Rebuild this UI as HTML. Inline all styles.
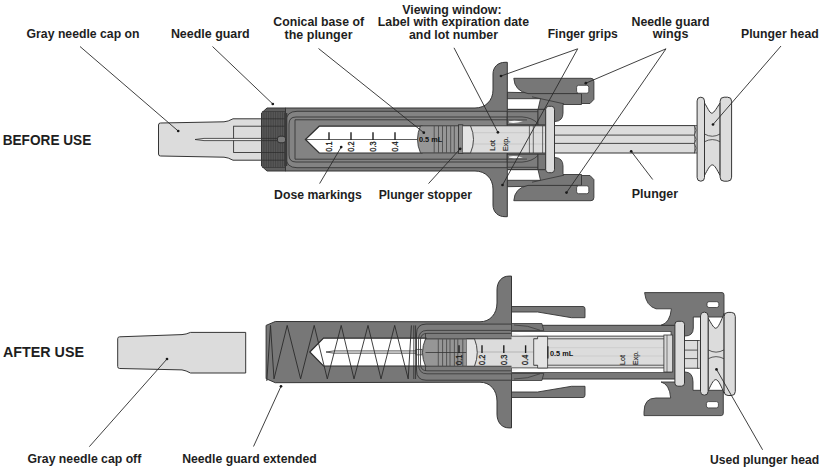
<!DOCTYPE html>
<html><head><meta charset="utf-8"><style>
html,body{margin:0;padding:0;background:#fff;}
svg{display:block;font-family:"Liberation Sans",sans-serif;}
</style></head><body>
<svg width="820" height="470" viewBox="0 0 820 470">
<rect width="820" height="470" fill="#fff"/>
<path d="M158.5,125 Q158.5,123 160.5,123 L224,121.8 Q228,121.6 233,118.8 L262,118.8 L262,160.2 L233,160.2 Q228,157.4 224,157.2 L160.5,156 Q158.5,156 158.5,154 Z" fill="#dcdcdc" stroke="#353535" stroke-width="1" />
<rect x="233.60" y="126.20" width="28.40" height="26.30" rx="0" fill="none" stroke="#353535" stroke-width="0.9"/>
<path d="M195,139.5 L204,138.4 L284,138.4 L284,140.6 L204,140.6 Z" fill="#eeeeee" stroke="#2e2e2e" stroke-width="0.8" />
<path d="M507,92.3 L581.5,93.6 L581.5,104.5 L563,104.5 L563,113 Q563,121 555,121.5 L538,121.5 L538,109.5 L540.5,98.7 L507,98.7 Z" fill="#777777" stroke="#353535" stroke-width="0.9" />
<line x1="532.00" y1="96.80" x2="564.00" y2="103.80" stroke="#353535" stroke-width="0.8"/>
<path d="M513.8,78.3 L591,78.3 Q593.9,78.3 593.9,81.5 L593.9,99.4 L590,103.5 L581.5,103.5 L581.5,93.6 L528,93.6 Q514.5,91 513.8,78.3 Z" fill="#777777" stroke="#353535" stroke-width="0.9" />
<rect x="576.60" y="85.30" width="12.20" height="7.90" rx="2" fill="#ffffff" stroke="#353535" stroke-width="0.8"/>
<g transform="translate(0,279.0) scale(1,-1)">
<path d="M507,92.3 L581.5,93.6 L581.5,104.5 L563,104.5 L563,113 Q563,121 555,121.5 L538,121.5 L538,109.5 L540.5,98.7 L507,98.7 Z" fill="#777777" stroke="#353535" stroke-width="0.9" />
<line x1="532.00" y1="96.80" x2="564.00" y2="103.80" stroke="#353535" stroke-width="0.8"/>
<path d="M513.8,78.3 L591,78.3 Q593.9,78.3 593.9,81.5 L593.9,99.4 L590,103.5 L581.5,103.5 L581.5,93.6 L528,93.6 Q514.5,91 513.8,78.3 Z" fill="#777777" stroke="#353535" stroke-width="0.9" />
<rect x="576.60" y="85.30" width="12.20" height="7.90" rx="2" fill="#ffffff" stroke="#353535" stroke-width="0.8"/>
</g>
<path d="M285,108 L475,108 C485.5,108 493,100.5 493,90 L493,74 C493,67 498,62.3 505,62.3 L507.3,62.3 L507.3,109.3 L546,109.3 L546,169.7 L507.3,169.7 L507.3,216.7 L505,216.7 C498,216.7 493,212 493,205 L493,189 C493,178.5 485.5,171 475,171 L285,171 Z" fill="#777777" stroke="#353535" stroke-width="1" />
<path d="M286,122 Q286,111.3 297,111.3 L507.3,111.3 L507.3,167.7 L297,167.7 Q286,167.7 286,157 Z" fill="#838383" stroke="#353535" stroke-width="0.9" />
<path d="M289,124 Q289,117 296,117 L507.3,117 L507.3,162 L296,162 Q289,162 289,155 Z" fill="none" stroke="#353535" stroke-width="0.9" />
<line x1="295.00" y1="119.80" x2="507.30" y2="119.80" stroke="#353535" stroke-width="0.9"/>
<line x1="295.00" y1="159.20" x2="507.30" y2="159.20" stroke="#353535" stroke-width="0.9"/>
<line x1="295.00" y1="119.80" x2="295.00" y2="159.20" stroke="#353535" stroke-width="0.9"/>
<path d="M507.3,109.5 L538,109.5 L538,124.8 L507.3,124.8 Z" fill="#7c7c7c" stroke="#353535" stroke-width="0.9" />
<line x1="507.30" y1="111.70" x2="538.00" y2="111.70" stroke="#353535" stroke-width="0.8"/>
<path d="M507.3,116.9 L522,116.9 Q532,117.5 538,123.5" fill="none" stroke="#353535" stroke-width="0.8" />
<line x1="507.30" y1="119.90" x2="527.00" y2="119.90" stroke="#353535" stroke-width="0.7"/>
<path d="M509,121.2 Q515,120.2 523,121.6 Q515,123.6 509,122.6 Z" fill="#f4f4f4" stroke="none" stroke-width="0" />
<rect x="538.00" y="109.50" width="7.70" height="15.30" rx="0" fill="#777777" stroke="#353535" stroke-width="0.8"/>
<g transform="translate(0,279.0) scale(1,-1)">
<path d="M507.3,109.5 L538,109.5 L538,124.8 L507.3,124.8 Z" fill="#7c7c7c" stroke="#353535" stroke-width="0.9" />
<line x1="507.30" y1="111.70" x2="538.00" y2="111.70" stroke="#353535" stroke-width="0.8"/>
<path d="M507.3,116.9 L522,116.9 Q532,117.5 538,123.5" fill="none" stroke="#353535" stroke-width="0.8" />
<line x1="507.30" y1="119.90" x2="527.00" y2="119.90" stroke="#353535" stroke-width="0.7"/>
<path d="M509,121.2 Q515,120.2 523,121.6 Q515,123.6 509,122.6 Z" fill="#f4f4f4" stroke="none" stroke-width="0" />
<rect x="538.00" y="109.50" width="7.70" height="15.30" rx="0" fill="#777777" stroke="#353535" stroke-width="0.8"/>
</g>
<path d="M305.4,139.5 L319.2,126.2 L422,126.2 L422,153 L319.2,153 Z" fill="#ffffff" stroke="#2e2e2e" stroke-width="1.2" />
<line x1="305.40" y1="139.50" x2="422.00" y2="139.50" stroke="#353535" stroke-width="0.8"/>
<rect x="462.00" y="125.80" width="84.00" height="27.20" rx="0" fill="#dcdcdc" stroke="#353535" stroke-width="0.9"/>
<line x1="472.00" y1="132.70" x2="546.00" y2="132.70" stroke="#bdbdbd" stroke-width="0.6"/>
<line x1="472.00" y1="144.00" x2="546.00" y2="144.00" stroke="#bdbdbd" stroke-width="0.6"/>
<line x1="529.40" y1="125.80" x2="529.40" y2="153.00" stroke="#353535" stroke-width="0.7"/>
<line x1="533.30" y1="125.80" x2="533.30" y2="153.00" stroke="#353535" stroke-width="0.7"/>
<line x1="542.60" y1="125.80" x2="542.60" y2="153.00" stroke="#353535" stroke-width="0.7"/>
<path d="M420.5,125.8 L462.5,125.8 L462.5,152.9 L420.5,152.9 Q414.5,139.4 420.5,125.8 Z" fill="#969696" stroke="#353535" stroke-width="0.9" />
<line x1="434.20" y1="126.00" x2="434.20" y2="152.70" stroke="#444" stroke-width="0.8"/>
<line x1="438.50" y1="126.00" x2="438.50" y2="152.70" stroke="#444" stroke-width="0.8"/>
<line x1="442.50" y1="126.00" x2="442.50" y2="152.70" stroke="#444" stroke-width="0.8"/>
<line x1="446.50" y1="126.00" x2="446.50" y2="152.70" stroke="#444" stroke-width="0.8"/>
<line x1="450.70" y1="126.00" x2="450.70" y2="152.70" stroke="#444" stroke-width="0.8"/>
<line x1="454.30" y1="126.00" x2="454.30" y2="152.70" stroke="#444" stroke-width="0.8"/>
<rect x="458.50" y="124.80" width="4.30" height="28.60" rx="0" fill="#8a8a8a" stroke="#353535" stroke-width="0.9"/>
<path d="M462.8,125.8 L470.5,125.8 Q476.5,139.4 470.5,152.9 L462.8,152.9" fill="#e4e4e4" stroke="#353535" stroke-width="0.9" />
<line x1="329.00" y1="132.30" x2="329.00" y2="140.00" stroke="#1e1e1e" stroke-width="1.4"/>
<text transform="translate(331.8,146.6) rotate(-90)" font-size="8.2" text-anchor="middle" font-weight="normal" fill="#1a1a1a" stroke="#1a1a1a" stroke-width="0.3" textLength="10.2" lengthAdjust="spacingAndGlyphs">0.1</text>
<line x1="351.00" y1="132.30" x2="351.00" y2="140.00" stroke="#1e1e1e" stroke-width="1.4"/>
<text transform="translate(353.8,146.6) rotate(-90)" font-size="8.2" text-anchor="middle" font-weight="normal" fill="#1a1a1a" stroke="#1a1a1a" stroke-width="0.3" textLength="10.2" lengthAdjust="spacingAndGlyphs">0.2</text>
<line x1="373.00" y1="132.30" x2="373.00" y2="140.00" stroke="#1e1e1e" stroke-width="1.4"/>
<text transform="translate(375.8,146.6) rotate(-90)" font-size="8.2" text-anchor="middle" font-weight="normal" fill="#1a1a1a" stroke="#1a1a1a" stroke-width="0.3" textLength="10.2" lengthAdjust="spacingAndGlyphs">0.3</text>
<line x1="395.00" y1="132.30" x2="395.00" y2="140.00" stroke="#1e1e1e" stroke-width="1.4"/>
<text transform="translate(397.8,146.6) rotate(-90)" font-size="8.2" text-anchor="middle" font-weight="normal" fill="#1a1a1a" stroke="#1a1a1a" stroke-width="0.3" textLength="10.2" lengthAdjust="spacingAndGlyphs">0.4</text>
<text x="419" y="142.1" font-size="7.4" font-weight="bold" fill="#111" textLength="23.2" lengthAdjust="spacingAndGlyphs">0.5 mL</text>
<text transform="translate(494.6,151) rotate(-90)" font-size="8" text-anchor="start" font-weight="normal" fill="#262626" stroke="#262626" stroke-width="0.15" textLength="11" lengthAdjust="spacingAndGlyphs">Lot</text>
<text transform="translate(507.7,151) rotate(-90)" font-size="8" text-anchor="start" font-weight="normal" fill="#262626" stroke="#262626" stroke-width="0.15" textLength="14.2" lengthAdjust="spacingAndGlyphs">Exp.</text>
<path d="M261.50,113.00 L267.00,108.00 L285.50,108.00 L285.50,171.00 L267.00,171.00 L261.50,166.00 Z" fill="#5e5e5e" stroke="#353535" stroke-width="1" />
<line x1="263.20" y1="111.50" x2="263.20" y2="167.50" stroke="#363636" stroke-width="0.6"/>
<line x1="264.95" y1="111.50" x2="264.95" y2="167.50" stroke="#363636" stroke-width="0.6"/>
<line x1="266.70" y1="111.50" x2="266.70" y2="167.50" stroke="#363636" stroke-width="0.6"/>
<line x1="268.45" y1="111.50" x2="268.45" y2="167.50" stroke="#363636" stroke-width="0.6"/>
<line x1="270.20" y1="111.50" x2="270.20" y2="167.50" stroke="#363636" stroke-width="0.6"/>
<line x1="271.95" y1="111.50" x2="271.95" y2="167.50" stroke="#363636" stroke-width="0.6"/>
<line x1="273.70" y1="111.50" x2="273.70" y2="167.50" stroke="#363636" stroke-width="0.6"/>
<line x1="275.45" y1="111.50" x2="275.45" y2="167.50" stroke="#363636" stroke-width="0.6"/>
<line x1="277.20" y1="111.50" x2="277.20" y2="167.50" stroke="#363636" stroke-width="0.6"/>
<line x1="278.95" y1="111.50" x2="278.95" y2="167.50" stroke="#363636" stroke-width="0.6"/>
<line x1="280.70" y1="111.50" x2="280.70" y2="167.50" stroke="#363636" stroke-width="0.6"/>
<line x1="282.45" y1="111.50" x2="282.45" y2="167.50" stroke="#363636" stroke-width="0.6"/>
<line x1="284.20" y1="111.50" x2="284.20" y2="167.50" stroke="#363636" stroke-width="0.6"/>
<line x1="262.00" y1="111.50" x2="285.00" y2="111.50" stroke="#333" stroke-width="0.6"/>
<line x1="262.00" y1="167.50" x2="285.00" y2="167.50" stroke="#333" stroke-width="0.6"/>
<line x1="262.00" y1="118.80" x2="285.00" y2="118.80" stroke="#2a2a2a" stroke-width="0.7"/>
<line x1="262.00" y1="126.20" x2="285.00" y2="126.20" stroke="#2a2a2a" stroke-width="0.7"/>
<line x1="262.00" y1="138.40" x2="285.00" y2="138.40" stroke="#2a2a2a" stroke-width="0.7"/>
<line x1="262.00" y1="140.60" x2="285.00" y2="140.60" stroke="#2a2a2a" stroke-width="0.7"/>
<line x1="262.00" y1="152.50" x2="285.00" y2="152.50" stroke="#2a2a2a" stroke-width="0.7"/>
<line x1="262.00" y1="160.20" x2="285.00" y2="160.20" stroke="#2a2a2a" stroke-width="0.7"/>
<rect x="284.30" y="113.00" width="3.00" height="53.00" rx="0" fill="#3a3a3a" stroke="none" stroke-width="0"/>
<rect x="277.50" y="136.20" width="8.00" height="6.60" rx="2.5" fill="#7a7a7a" stroke="#2a2a2a" stroke-width="0.9"/>
<rect x="545.70" y="106.30" width="8.80" height="66.40" rx="3" fill="#dcdcdc" stroke="#353535" stroke-width="1"/>
<rect x="554.50" y="125.60" width="140.00" height="27.40" rx="0" fill="#dcdcdc" stroke="#353535" stroke-width="1"/>
<line x1="554.50" y1="135.10" x2="694.50" y2="135.10" stroke="#353535" stroke-width="0.9"/>
<line x1="554.50" y1="143.40" x2="694.50" y2="143.40" stroke="#353535" stroke-width="0.9"/>
<path d="M694.5,125.6 Q697.5,130 694.5,135.1 Q697.5,139.3 694.5,143.4 Q697.5,148 694.5,153" fill="none" stroke="#353535" stroke-width="0.8" />
<rect x="694.50" y="125.60" width="3.00" height="27.40" rx="0" fill="#d4d4d4" stroke="none" stroke-width="0"/>
<path d="M694.5,125.6 Q697.5,130 694.5,135.1 Q697.5,139.3 694.5,143.4 Q697.5,148 694.5,153" fill="none" stroke="#353535" stroke-width="0.8" />
<line x1="694.50" y1="125.60" x2="697.00" y2="125.60" stroke="#353535" stroke-width="0.8"/>
<line x1="694.50" y1="153.00" x2="697.00" y2="153.00" stroke="#353535" stroke-width="0.8"/>
<path d="M704.5,103 C707,106.5 709.5,113.2 711.8,113.2 C714.1,113.2 717.5,106.5 720.1,103 L720.1,175.4 C717,170 714.8,164.9 712.3,164.9 C709.8,164.9 707.5,170 704.5,175.4 Z" fill="#dcdcdc" stroke="#353535" stroke-width="1" />
<path d="M704.5,134 Q712.3,138.5 720.1,134" fill="none" stroke="#353535" stroke-width="0.8" />
<path d="M704.5,141.7 Q712.3,137.5 720.1,141.7" fill="none" stroke="#353535" stroke-width="0.8" />
<rect x="697.10" y="97.20" width="7.40" height="84.00" rx="3.7" fill="#dcdcdc" stroke="#353535" stroke-width="1"/>
<rect x="720.10" y="97.20" width="11.50" height="84.00" rx="4" fill="#dcdcdc" stroke="#353535" stroke-width="1"/>
<path d="M117.7,338.8 Q117.7,336.8 119.7,336.8 L182,334.6 Q186,334.4 190.5,332.4 L245.7,332.4 L245.7,373 L190.5,373 Q186,370.5 182,369.9 L119.7,368.5 Q117.7,368.5 117.7,366.5 Z" fill="#dcdcdc" stroke="#353535" stroke-width="1" />
<path d="M511.5,306.5 L583,306.5 Q585,306.5 585,309 L585,317.7 L571.5,317.7 L537.6,312 L511.5,312 Z" fill="#777777" stroke="#353535" stroke-width="0.9" />
<g transform="translate(0,704) scale(1,-1)">
<path d="M511.5,306.5 L583,306.5 Q585,306.5 585,309 L585,317.7 L571.5,317.7 L537.6,312 L511.5,312 Z" fill="#777777" stroke="#353535" stroke-width="0.9" />
</g>
<path d="M275.3,321.5 L480,321.8 C490,321.8 497,314 497,303 L497,290 C497,282 501.5,276.1 509,276.1 L511.5,276.1 L511.5,325.3 L676,325.3 L676,379 L511.5,379 L511.5,427.9 L509,427.9 C501.5,427.9 497,422 497,414 L497,401 C497,390 490,382.2 480,382.2 L275.3,382.7 L266.1,378.7 L266.1,325.4 Z" fill="#777777" stroke="#353535" stroke-width="1" />
<path d="M416.5,334 Q416.5,324.1 426,324.1 L511.5,324.1 L511.5,380.2 L426,380.2 Q416.5,380.2 416.5,370 Z" fill="#7c7c7c" stroke="none" stroke-width="0" />
<path d="M309.8,352 L323.5,338.2 L426,338.2 L426,366 L323.5,366 Z" fill="#ffffff" stroke="#2e2e2e" stroke-width="1.2" />
<path d="M326,352 L334,350.9 L418,350.9 L418,353.2 L334,353.2 Z" fill="#f2f2f2" stroke="#333" stroke-width="0.8" />
<rect x="416.00" y="349.30" width="6.00" height="5.60" rx="0" fill="#e8e8e8" stroke="#333" stroke-width="0.7"/>
<path d="M511.5,324.1 L426,324.1 Q416.5,324.1 416.5,334 L416.5,370 Q416.5,380.2 426,380.2 L511.5,380.2" fill="none" stroke="#353535" stroke-width="0.9" />
<path d="M511.5,330.4 L427,330.4 Q418.5,330.4 418.5,340 L418.5,364 Q418.5,373.8 427,373.8 L511.5,373.8" fill="none" stroke="#353535" stroke-width="0.8" />
<path d="M511.5,333.4 L427,333.4 Q420.5,333.4 420.5,340 L420.5,364 Q420.5,370.8 427,370.8 L511.5,370.8" fill="none" stroke="#353535" stroke-width="0.8" />
<line x1="425.50" y1="333.40" x2="425.50" y2="370.80" stroke="#353535" stroke-width="0.8"/>
<path d="M511.5,323.5 L541.9,323.5 L543.8,330.6 L511.5,330.6 Z" fill="#777777" stroke="#353535" stroke-width="0.8" />
<path d="M514,325 Q528,325 540,330.2" fill="none" stroke="#353535" stroke-width="0.7" />
<rect x="511.50" y="331.60" width="159.50" height="4.60" rx="0" fill="#ffffff" stroke="#353535" stroke-width="0.7"/>
<path d="M512,332.5 Q520,335.5 532,336.2 L512,336.2 Z" fill="#f0f0f0" stroke="none" stroke-width="0" />
<g transform="translate(0,704) scale(1,-1)">
<path d="M511.5,323.5 L541.9,323.5 L543.8,330.6 L511.5,330.6 Z" fill="#777777" stroke="#353535" stroke-width="0.8" />
<path d="M514,325 Q528,325 540,330.2" fill="none" stroke="#353535" stroke-width="0.7" />
<rect x="511.50" y="331.60" width="159.50" height="4.60" rx="0" fill="#ffffff" stroke="#353535" stroke-width="0.7"/>
<path d="M512,332.5 Q520,335.5 532,336.2 L512,336.2 Z" fill="#f0f0f0" stroke="none" stroke-width="0" />
</g>
<rect x="467.00" y="338.80" width="204.00" height="27.40" rx="0" fill="#dcdcdc" stroke="#353535" stroke-width="0.9"/>
<rect x="511.50" y="336.20" width="159.50" height="32.00" rx="0" fill="#dcdcdc" stroke="none" stroke-width="0"/>
<line x1="511.50" y1="336.20" x2="671.00" y2="336.20" stroke="#353535" stroke-width="0.7"/>
<line x1="511.50" y1="367.80" x2="671.00" y2="367.80" stroke="#353535" stroke-width="0.7"/>
<line x1="533.70" y1="338.80" x2="671.00" y2="338.80" stroke="#353535" stroke-width="0.8"/>
<line x1="533.70" y1="365.20" x2="671.00" y2="365.20" stroke="#353535" stroke-width="0.8"/>
<line x1="547.60" y1="347.70" x2="663.90" y2="347.70" stroke="#c2c2c2" stroke-width="0.6"/>
<line x1="547.60" y1="356.00" x2="663.90" y2="356.00" stroke="#c2c2c2" stroke-width="0.6"/>
<line x1="467.00" y1="352.00" x2="533.70" y2="352.00" stroke="#9a9a9a" stroke-width="0.6"/>
<path d="M537.6,336.4 L547.6,336.4 L547.6,368 L537.6,368 L537.6,365.2 L533.7,365.2 L533.7,338.8 L537.6,338.8 Z" fill="#e4e4e4" stroke="#353535" stroke-width="0.8" />
<rect x="663.90" y="335.00" width="8.80" height="37.00" rx="0" fill="#d8d8d8" stroke="#353535" stroke-width="0.8"/>
<line x1="667.00" y1="335.00" x2="667.00" y2="372.00" stroke="#353535" stroke-width="0.6"/>
<path d="M425.5,338.9 L466.7,338.9 L466.7,366.2 L425.5,366.2 Q419.5,352.5 425.5,338.9 Z" fill="#969696" stroke="#353535" stroke-width="0.9" />
<line x1="438.30" y1="339.10" x2="438.30" y2="366.00" stroke="#444" stroke-width="0.8"/>
<line x1="442.60" y1="339.10" x2="442.60" y2="366.00" stroke="#444" stroke-width="0.8"/>
<line x1="446.60" y1="339.10" x2="446.60" y2="366.00" stroke="#444" stroke-width="0.8"/>
<line x1="450.00" y1="339.10" x2="450.00" y2="366.00" stroke="#444" stroke-width="0.8"/>
<line x1="454.40" y1="339.10" x2="454.40" y2="366.00" stroke="#444" stroke-width="0.8"/>
<line x1="457.80" y1="339.10" x2="457.80" y2="366.00" stroke="#444" stroke-width="0.8"/>
<line x1="462.80" y1="339.10" x2="462.80" y2="366.00" stroke="#444" stroke-width="0.8"/>
<line x1="425.50" y1="352.50" x2="466.70" y2="352.50" stroke="#333" stroke-width="0.8"/>
<path d="M466.7,338.9 L474.5,338.9 Q480,352.5 474.5,366.2 L466.7,366.2" fill="#e4e4e4" stroke="#353535" stroke-width="0.9" />
<line x1="459.00" y1="345.30" x2="459.00" y2="353.00" stroke="#1e1e1e" stroke-width="1.4"/>
<text transform="translate(461.8,359.8) rotate(-90)" font-size="8.2" text-anchor="middle" font-weight="normal" fill="#1a1a1a" stroke="#1a1a1a" stroke-width="0.3" textLength="10.2" lengthAdjust="spacingAndGlyphs">0.1</text>
<line x1="482.00" y1="345.30" x2="482.00" y2="353.00" stroke="#1e1e1e" stroke-width="1.4"/>
<text transform="translate(484.8,359.8) rotate(-90)" font-size="8.2" text-anchor="middle" font-weight="normal" fill="#1a1a1a" stroke="#1a1a1a" stroke-width="0.3" textLength="10.2" lengthAdjust="spacingAndGlyphs">0.2</text>
<line x1="503.80" y1="345.30" x2="503.80" y2="353.00" stroke="#1e1e1e" stroke-width="1.4"/>
<text transform="translate(506.6,359.8) rotate(-90)" font-size="8.2" text-anchor="middle" font-weight="normal" fill="#1a1a1a" stroke="#1a1a1a" stroke-width="0.3" textLength="10.2" lengthAdjust="spacingAndGlyphs">0.3</text>
<line x1="525.60" y1="345.30" x2="525.60" y2="353.00" stroke="#1e1e1e" stroke-width="1.4"/>
<text transform="translate(528.4,359.8) rotate(-90)" font-size="8.2" text-anchor="middle" font-weight="normal" fill="#1a1a1a" stroke="#1a1a1a" stroke-width="0.3" textLength="10.2" lengthAdjust="spacingAndGlyphs">0.4</text>
<line x1="547.90" y1="346.20" x2="547.90" y2="358.50" stroke="#1e1e1e" stroke-width="1.2"/>
<text x="550" y="356.3" font-size="7.4" font-weight="bold" fill="#111" textLength="23.2" lengthAdjust="spacingAndGlyphs">0.5 mL</text>
<text transform="translate(625,364.9) rotate(-90)" font-size="8" text-anchor="start" font-weight="normal" fill="#262626" stroke="#262626" stroke-width="0.15" textLength="10" lengthAdjust="spacingAndGlyphs">Lot</text>
<text transform="translate(638.3,364.9) rotate(-90)" font-size="8" text-anchor="start" font-weight="normal" fill="#262626" stroke="#262626" stroke-width="0.15" textLength="13.9" lengthAdjust="spacingAndGlyphs">Exp.</text>
<path d="M266.8,381.0 L270.5,325.4 L274.0,378.9 L287.2,325.4 L300.6,378.9 L314.2,325.4 L327.3,378.9 L341.2,325.4 L354.0,378.9 L368.0,325.4 L381.0,378.9 L394.7,325.4 L408.2,378.9 L411.4,325.4" fill="none" stroke="#2a2a2a" stroke-width="0.9" />
<line x1="413.80" y1="325.40" x2="413.80" y2="379.00" stroke="#2a2a2a" stroke-width="0.8"/>
<line x1="415.60" y1="325.40" x2="415.60" y2="379.00" stroke="#2a2a2a" stroke-width="0.8"/>
<path d="M644.6,292.6 L722,292.6 Q724,292.6 724,295 L724,317 L693.3,317 L693.3,328 Q693.3,336 685,336 L684,336 L684,325.3 L661,325.3 Q670,323 671.4,308.8 L656,308.8 Q646,306 644.6,292.6 Z" fill="#777777" stroke="#353535" stroke-width="0.9" />
<rect x="707.00" y="301.70" width="11.80" height="5.80" rx="2" fill="#ffffff" stroke="#353535" stroke-width="0.8"/>
<g transform="translate(0,708) scale(1,-1)">
<path d="M644,292.4 L721.3,292.4 Q723.3,292.4 723.3,295 L723.3,317.7 L693,317.7 L693,326 Q693,336 685,336 L684,336 L684,326 L661,326 Q669.5,324 670.7,310 L656,310 Q644,310 644,296 Z" fill="#777777" stroke="#353535" stroke-width="0.9" />
<rect x="706.40" y="300.10" width="12.00" height="6.30" rx="2" fill="#ffffff" stroke="#353535" stroke-width="0.8"/>
</g>
<rect x="674.90" y="321.30" width="9.60" height="64.90" rx="3" fill="#dcdcdc" stroke="#353535" stroke-width="1"/>
<rect x="684.50" y="340.50" width="14.00" height="27.70" rx="0" fill="#dcdcdc" stroke="#353535" stroke-width="0.9"/>
<line x1="684.50" y1="350.10" x2="698.50" y2="350.10" stroke="#353535" stroke-width="0.8"/>
<line x1="684.50" y1="358.60" x2="698.50" y2="358.60" stroke="#353535" stroke-width="0.8"/>
<rect x="697.50" y="340.50" width="3.20" height="27.70" rx="0" fill="#d4d4d4" stroke="#353535" stroke-width="0.7"/>
<path d="M708.1,318 C710.5,322 713.5,328.3 715.8,328.3 C718.1,328.3 721.5,320 724.1,313.5 L724.1,393 C721.5,387 718.5,379.6 715.8,379.6 C713.1,379.6 710.5,386 708.1,391 Z" fill="#dcdcdc" stroke="#353535" stroke-width="1" />
<path d="M708.1,349.8 Q716,354.5 724.1,349.8" fill="none" stroke="#353535" stroke-width="0.8" />
<path d="M708.1,358.8 Q716,354.5 724.1,358.8" fill="none" stroke="#353535" stroke-width="0.8" />
<rect x="700.50" y="312.10" width="7.60" height="83.10" rx="3.8" fill="#dcdcdc" stroke="#353535" stroke-width="1"/>
<rect x="724.10" y="312.40" width="11.20" height="83.10" rx="4" fill="#dcdcdc" stroke="#353535" stroke-width="1"/>
<text x="26.6" y="38.35" font-size="13.1" text-anchor="start" font-weight="bold" fill="#1e1e1e" textLength="112.9" lengthAdjust="spacingAndGlyphs">Gray needle cap on</text>
<text x="170.9" y="38.35" font-size="13.1" text-anchor="start" font-weight="bold" fill="#1e1e1e" textLength="78.8" lengthAdjust="spacingAndGlyphs">Needle guard</text>
<text x="318.65" y="26.35" font-size="13.1" text-anchor="middle" font-weight="bold" fill="#1e1e1e" textLength="90.7" lengthAdjust="spacingAndGlyphs">Conical base of</text>
<text x="318.55" y="38.55" font-size="13.1" text-anchor="middle" font-weight="bold" fill="#1e1e1e" textLength="67.9" lengthAdjust="spacingAndGlyphs">the plunger</text>
<text x="451.95" y="13.65" font-size="13.1" text-anchor="middle" font-weight="bold" fill="#1e1e1e" textLength="99.3" lengthAdjust="spacingAndGlyphs">Viewing window:</text>
<text x="453.4" y="26.35" font-size="13.1" text-anchor="middle" font-weight="bold" fill="#1e1e1e" textLength="151.2" lengthAdjust="spacingAndGlyphs">Label with expiration date</text>
<text x="453.5" y="38.55" font-size="13.1" text-anchor="middle" font-weight="bold" fill="#1e1e1e" textLength="89" lengthAdjust="spacingAndGlyphs">and lot number</text>
<text x="547.7" y="38.35" font-size="13.1" text-anchor="start" font-weight="bold" fill="#1e1e1e" textLength="70.2" lengthAdjust="spacingAndGlyphs">Finger grips</text>
<text x="670.55" y="25.65" font-size="13.1" text-anchor="middle" font-weight="bold" fill="#1e1e1e" textLength="78.1" lengthAdjust="spacingAndGlyphs">Needle guard</text>
<text x="670.6" y="38.35" font-size="13.1" text-anchor="middle" font-weight="bold" fill="#1e1e1e" textLength="35.6" lengthAdjust="spacingAndGlyphs">wings</text>
<text x="741" y="38.05" font-size="13.1" text-anchor="start" font-weight="bold" fill="#1e1e1e" textLength="77.7" lengthAdjust="spacingAndGlyphs">Plunger head</text>
<text x="2.7" y="144.60" font-size="15" text-anchor="start" font-weight="bold" fill="#1e1e1e" textLength="88.6" lengthAdjust="spacingAndGlyphs">BEFORE USE</text>
<text x="274.1" y="198.75" font-size="13.1" text-anchor="start" font-weight="bold" fill="#1e1e1e" textLength="87.8" lengthAdjust="spacingAndGlyphs">Dose markings</text>
<text x="378.7" y="198.75" font-size="13.1" text-anchor="start" font-weight="bold" fill="#1e1e1e" textLength="93.2" lengthAdjust="spacingAndGlyphs">Plunger stopper</text>
<text x="631.8" y="198.05" font-size="13.1" text-anchor="start" font-weight="bold" fill="#1e1e1e" textLength="46.3" lengthAdjust="spacingAndGlyphs">Plunger</text>
<text x="3" y="357.20" font-size="15" text-anchor="start" font-weight="bold" fill="#1e1e1e" textLength="81" lengthAdjust="spacingAndGlyphs">AFTER USE</text>
<text x="27.5" y="463.05" font-size="13.1" text-anchor="start" font-weight="bold" fill="#1e1e1e" textLength="113.8" lengthAdjust="spacingAndGlyphs">Gray needle cap off</text>
<text x="182.2" y="463.05" font-size="13.1" text-anchor="start" font-weight="bold" fill="#1e1e1e" textLength="134.5" lengthAdjust="spacingAndGlyphs">Needle guard extended</text>
<text x="709.9" y="463.65" font-size="13.1" text-anchor="start" font-weight="bold" fill="#1e1e1e" textLength="109.3" lengthAdjust="spacingAndGlyphs">Used plunger head</text>
<line x1="80.00" y1="46.50" x2="178.20" y2="131.00" stroke="#2a2a2a" stroke-width="0.9"/>
<circle cx="178.2" cy="131" r="1.35" fill="#1a1a1a"/>
<line x1="212.50" y1="46.50" x2="272.80" y2="104.00" stroke="#2a2a2a" stroke-width="0.9"/>
<circle cx="272.8" cy="104" r="1.35" fill="#1a1a1a"/>
<line x1="318.50" y1="48.50" x2="423.80" y2="132.70" stroke="#2a2a2a" stroke-width="0.9"/>
<circle cx="423.8" cy="132.7" r="1.35" fill="#1a1a1a"/>
<line x1="454.00" y1="47.80" x2="497.90" y2="132.30" stroke="#2a2a2a" stroke-width="0.9"/>
<circle cx="497.9" cy="132.3" r="1.35" fill="#1a1a1a"/>
<line x1="577.70" y1="48.80" x2="501.00" y2="76.00" stroke="#2a2a2a" stroke-width="0.9"/>
<circle cx="501" cy="76" r="1.35" fill="#1a1a1a"/>
<line x1="577.70" y1="48.80" x2="502.50" y2="185.00" stroke="#2a2a2a" stroke-width="0.9"/>
<circle cx="502.5" cy="185" r="1.35" fill="#1a1a1a"/>
<line x1="666.00" y1="48.80" x2="585.80" y2="83.20" stroke="#2a2a2a" stroke-width="0.9"/>
<circle cx="585.8" cy="83.2" r="1.35" fill="#1a1a1a"/>
<line x1="666.00" y1="48.80" x2="566.50" y2="192.60" stroke="#2a2a2a" stroke-width="0.9"/>
<circle cx="566.5" cy="192.6" r="1.35" fill="#1a1a1a"/>
<line x1="781.00" y1="46.00" x2="713.00" y2="124.50" stroke="#2a2a2a" stroke-width="0.9"/>
<circle cx="713" cy="124.5" r="1.35" fill="#1a1a1a"/>
<line x1="319.60" y1="183.60" x2="341.20" y2="147.10" stroke="#2a2a2a" stroke-width="0.9"/>
<circle cx="341.2" cy="147.1" r="1.35" fill="#1a1a1a"/>
<line x1="428.50" y1="183.60" x2="460.20" y2="148.80" stroke="#2a2a2a" stroke-width="0.9"/>
<circle cx="460.2" cy="148.8" r="1.35" fill="#1a1a1a"/>
<line x1="652.70" y1="179.50" x2="631.20" y2="151.30" stroke="#2a2a2a" stroke-width="0.9"/>
<circle cx="631.2" cy="151.3" r="1.35" fill="#1a1a1a"/>
<line x1="89.30" y1="446.70" x2="167.00" y2="359.00" stroke="#2a2a2a" stroke-width="0.9"/>
<circle cx="167" cy="359" r="1.35" fill="#1a1a1a"/>
<line x1="253.50" y1="446.50" x2="281.00" y2="386.30" stroke="#2a2a2a" stroke-width="0.9"/>
<circle cx="281" cy="386.3" r="1.35" fill="#1a1a1a"/>
<line x1="762.60" y1="449.80" x2="716.50" y2="369.40" stroke="#2a2a2a" stroke-width="0.9"/>
<circle cx="716.5" cy="369.4" r="1.35" fill="#1a1a1a"/>
</svg></body></html>
